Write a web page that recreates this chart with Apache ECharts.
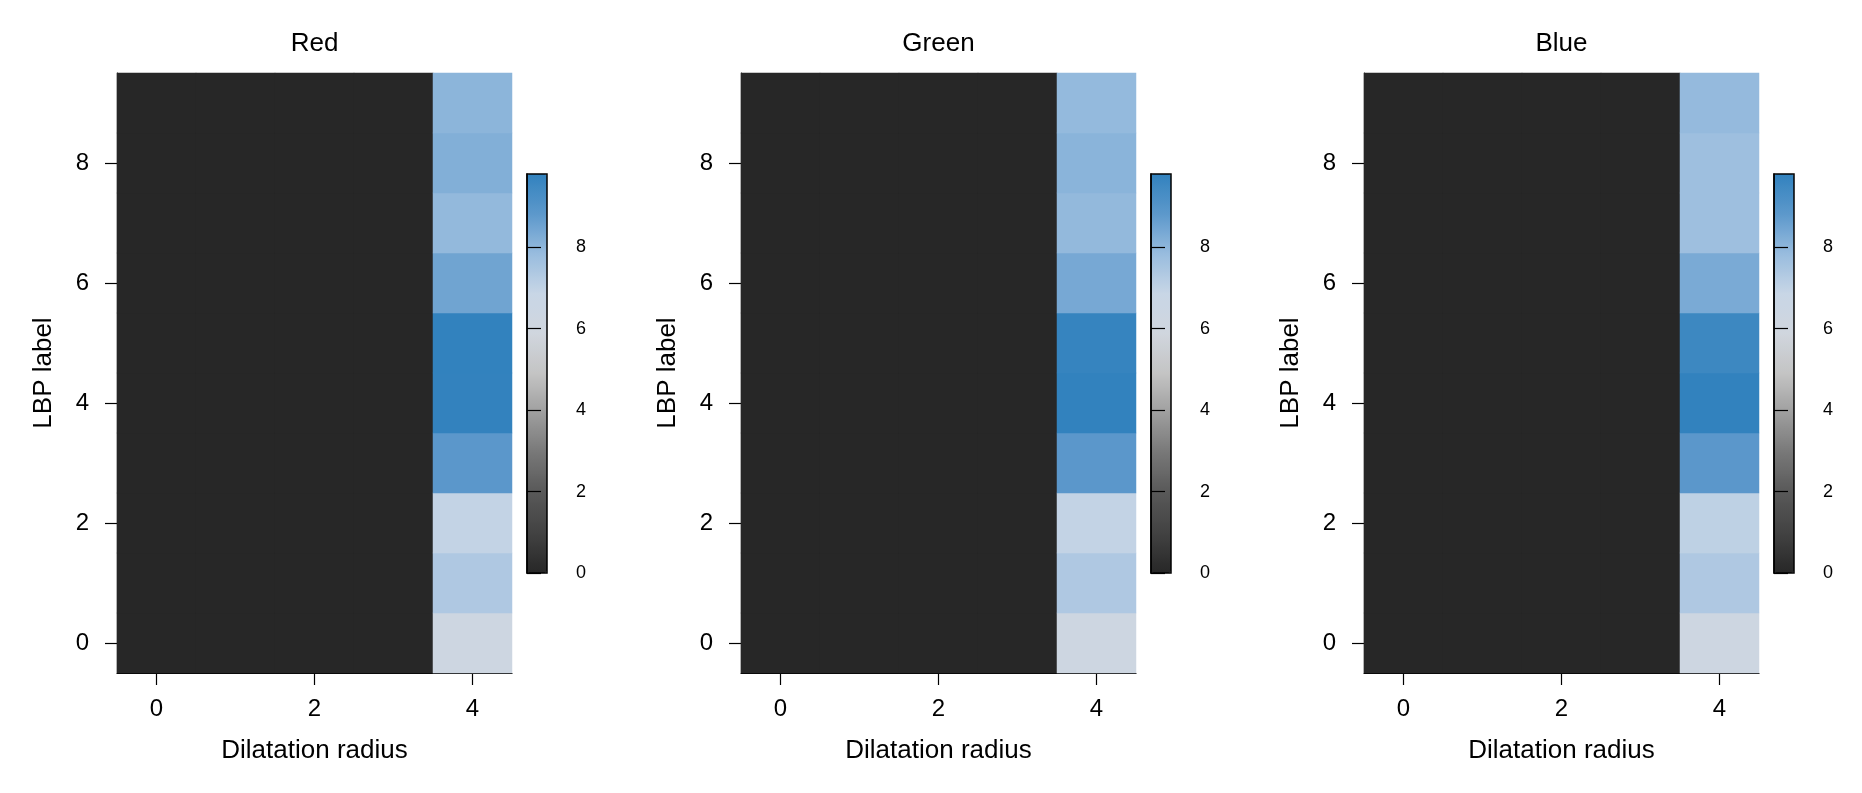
<!DOCTYPE html>
<html>
<head>
<meta charset="utf-8">
<script src="https://cdn.jsdelivr.net/npm/echarts@6/dist/echarts.min.js"></script>
<style>
  html, body { margin: 0; padding: 0; background: #fff; }
  #main { width: 1862px; height: 793px; }
</style>
</head>
<body>
<div id="main"></div>
<script>
var radii = ['0', '1', '2', '3', '4'];
var lbpLabels = ['0', '1', '2', '3', '4', '5', '6', '7', '8', '9'];
var barTicks = [0, 2, 4, 6, 8];
var panelTitles = ['Red', 'Green', 'Blue'];

// one row per dilatation radius, values for LBP label 0..9
var red = [
  [0, 0, 0, 0, 0, 0, 0, 0, 0, 0],
  [0, 0, 0, 0, 0, 0, 0, 0, 0, 0],
  [0, 0, 0, 0, 0, 0, 0, 0, 0, 0],
  [0, 0, 0, 0, 0, 0, 0, 0, 0, 0],
  [6.2, 7.38, 6.96, 8.85, 9.78, 9.8, 8.5, 7.92, 8.2, 8.04]
];
var green = [
  [0, 0, 0, 0, 0, 0, 0, 0, 0, 0],
  [0, 0, 0, 0, 0, 0, 0, 0, 0, 0],
  [0, 0, 0, 0, 0, 0, 0, 0, 0, 0],
  [0, 0, 0, 0, 0, 0, 0, 0, 0, 0],
  [6.2, 7.37, 6.96, 8.85, 9.8, 9.7, 8.38, 7.92, 8.07, 7.9]
];
var blue = [
  [0, 0, 0, 0, 0, 0, 0, 0, 0, 0],
  [0, 0, 0, 0, 0, 0, 0, 0, 0, 0],
  [0, 0, 0, 0, 0, 0, 0, 0, 0, 0],
  [0, 0, 0, 0, 0, 0, 0, 0, 0, 0],
  [6.2, 7.37, 7.06, 8.85, 9.8, 9.55, 8.33, 7.72, 7.72, 7.89]
];
var valueMin = 0;
var valueMax = 9.8;

var FONT = "'Liberation Sans', Arial, Helvetica, sans-serif";
var RAMP = ['#272727', '#424242', '#585858', '#777777', '#9e9e9e', '#c4c4c4',
            '#d0d6de', '#c8d6e6', '#98bcde', '#5c98cb', '#3282be'];

var myChart = echarts.init(document.getElementById('main'));

// integer cell sizes so neighbouring cells leave no seams
var lefts = [117, 741, 1364];
var plotW = 395, plotH = 600, plotTop = 73;
var barTop = 174, barH = 399, barW = 20;

var grid = [], xAxis = [], yAxis = [], series = [], visualMap = [], title = [];

[red, green, blue].forEach(function (mat, i) {
  var left = lefts[i];
  var barLeft = left + plotW + 15;

  var data = [];
  mat.forEach(function (col, x) {
    col.forEach(function (v, y) {
      data.push([x, y, v]);
    });
  });

  title.push({
    text: panelTitles[i],
    left: left + plotW / 2,
    top: 31,
    padding: 0,
    textAlign: 'center',
    textStyle: { fontFamily: FONT, fontSize: 26, fontWeight: 'normal', color: '#000' }
  });

  // heatmap grid
  grid.push({ left: left, top: plotTop, width: plotW, height: plotH });
  xAxis.push({
    type: 'category',
    gridIndex: grid.length - 1,
    data: radii,
    name: 'Dilatation radius',
    nameLocation: 'middle',
    nameGap: 65,
    nameTextStyle: { fontFamily: FONT, fontSize: 26, color: '#000' },
    axisLine: { show: true, lineStyle: { color: '#000', width: 1.2 } },
    axisTick: { show: true, alignWithLabel: true, interval: 1, length: 12, lineStyle: { color: '#000', width: 1.2 } },
    axisLabel: { interval: 1, margin: 24, fontFamily: FONT, fontSize: 24, color: '#000' },
    splitLine: { show: false }
  });
  yAxis.push({
    type: 'category',
    gridIndex: grid.length - 1,
    data: lbpLabels,
    name: 'LBP label',
    nameLocation: 'middle',
    nameGap: 60,
    nameRotate: 90,
    nameTextStyle: { fontFamily: FONT, fontSize: 26, color: '#000' },
    axisLine: { show: true, lineStyle: { color: '#000', width: 1.2 } },
    axisTick: { show: true, alignWithLabel: true, interval: 1, length: 12, lineStyle: { color: '#000', width: 1.2 } },
    axisLabel: { interval: 1, margin: 28, fontFamily: FONT, fontSize: 24, color: '#000' },
    splitLine: { show: false }
  });
  series.push({
    type: 'heatmap',
    xAxisIndex: xAxis.length - 1,
    yAxisIndex: yAxis.length - 1,
    data: data,
    emphasis: { disabled: true },
    progressive: 0
  });

  // colour bar axis frame
  grid.push({
    left: barLeft, top: barTop, width: barW, height: barH,
    show: true, z: 10, borderColor: '#000', borderWidth: 1.5, backgroundColor: 'transparent'
  });
  xAxis.push({ type: 'value', gridIndex: grid.length - 1, show: false, min: 0, max: 1 });
  yAxis.push({
    type: 'value',
    gridIndex: grid.length - 1,
    position: 'right',
    min: valueMin,
    max: valueMax,
    z: 10,
    axisLine: { show: true, lineStyle: { color: '#000', width: 1.5 } },
    axisTick: { show: true, length: 14, customValues: barTicks, lineStyle: { color: '#000', width: 1.2 } },
    axisLabel: { customValues: barTicks, margin: 29, fontFamily: FONT, fontSize: 18, color: '#000' },
    splitLine: { show: false }
  });

  visualMap.push({
    type: 'continuous',
    seriesIndex: i,
    min: valueMin,
    max: valueMax,
    calculable: false,
    hoverLink: false,
    left: barLeft,
    top: barTop,
    itemWidth: barW,
    itemHeight: barH,
    padding: 0,
    text: null,
    inRange: { color: RAMP }
  });
});

myChart.setOption({
  animation: false,
  backgroundColor: '#fff',
  title: title,
  grid: grid,
  xAxis: xAxis,
  yAxis: yAxis,
  visualMap: visualMap,
  series: series
});

window.addEventListener('resize', function () {
  myChart.resize();
});
</script>
</body>
</html>
